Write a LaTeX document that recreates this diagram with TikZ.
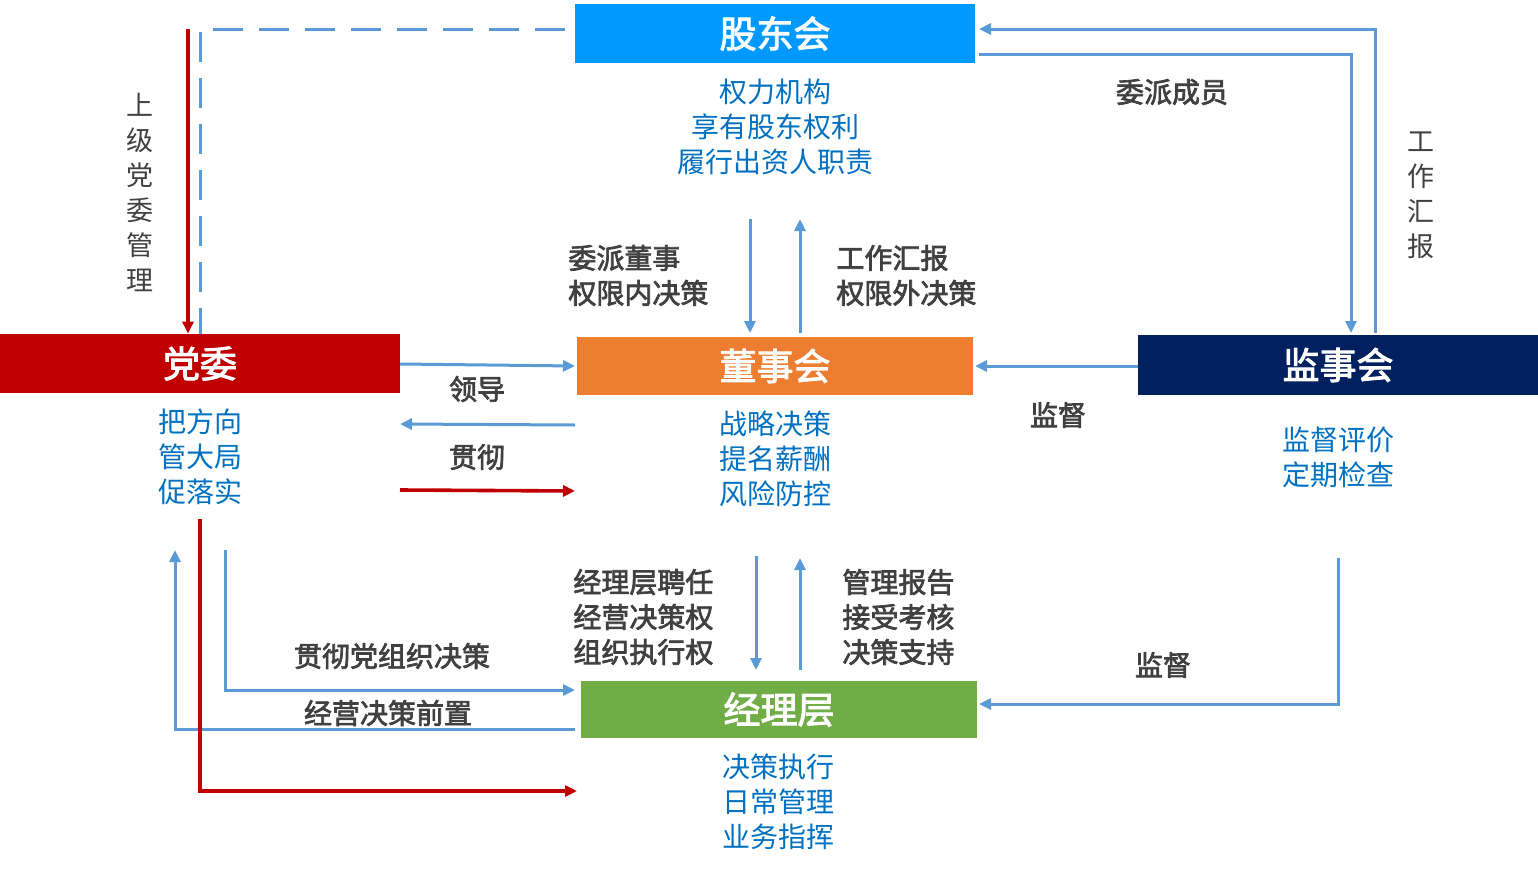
\documentclass[tikz,border=0pt]{standalone}
\usepackage{fontspec}
\setmainfont{Noto Sans CJK SC}
\newfontfamily\medfont[FakeBold=2.5]{Noto Sans CJK SC}
\usetikzlibrary{arrows.meta}
\definecolor{gdblue}{HTML}{0099FF}
\definecolor{dwred}{HTML}{C00000}
\definecolor{dshorange}{HTML}{ED7D31}
\definecolor{jshnavy}{HTML}{002060}
\definecolor{jlcgreen}{HTML}{70AD47}
\definecolor{lineblue}{HTML}{5B9BD5}
\definecolor{txtblue}{HTML}{0070C0}
\definecolor{txtgrey}{HTML}{404040}
\definecolor{linered}{HTML}{C00000}
\begin{document}
\begin{tikzpicture}[x=0.5pt,y=-0.5pt,
 box/.style={inner sep=0, minimum width=200pt, minimum height=29.5pt, text=white, font=\medfont\fontsize{18.5}{20}\selectfont},
 bluetxt/.style={text=txtblue, align=center, font=\fontsize{14}{17.5}\selectfont, inner sep=0},
 greytxt/.style={text=txtgrey, align=left, font=\medfont\fontsize{14}{17.5}\selectfont, inner sep=0},
 vtxt/.style={text=txtgrey, align=center, font=\fontsize{13.5}{17.5}\selectfont, inner sep=0},
 barrow/.style={draw=lineblue, line width=1.5pt, -{Triangle[length=6pt,width=5.5pt]}},
 rarrow/.style={draw=linered, line width=1.8pt, -{Triangle[length=6pt,width=5.5pt]}},
 bdash/.style={draw=lineblue, line width=1.5pt, dash pattern=on 15pt off 8pt},
]
\useasboundingbox (0,0) rectangle (1538,873);

% boxes
\node[box, fill=gdblue] (gd) at (775,33.5) {股东会};
\node[box, fill=dwred] (dw) at (200,363.5) {党委};
\node[box, fill=dshorange, minimum width=198pt, minimum height=29pt] (dsh) at (775,366) {董事会};
\node[box, fill=jshnavy, minimum height=30pt] (jsh) at (1338,365) {监事会};
\node[box, fill=jlcgreen, minimum width=198pt, minimum height=28.5pt] (jlc) at (779,709.5) {经理层};

% blue descriptions
\node[bluetxt] (gdd) at (775,127) {权力机构\\享有股东权利\\履行出资人职责};
\node[bluetxt] (dwd) at (200,457) {把方向\\管大局\\促落实};
\node[bluetxt] (dshd) at (775,459) {战略决策\\提名薪酬\\风险防控};
\node[bluetxt] (jshd) at (1338,457.5) {监督评价\\定期检查};
\node[bluetxt] (jlcd) at (778,802) {决策执行\\日常管理\\业务指挥};

% grey labels
\node[greytxt, anchor=west] (l1) at (568,275.5) {委派董事\\权限内决策};
\node[greytxt, anchor=west] (l2) at (836,275.5) {工作汇报\\权限外决策};
\node[greytxt] (l3) at (1172,92) {委派成员};
\node[vtxt] (l4) at (1421,195.5) {工\\作\\汇\\报};
\node[vtxt] (l5) at (140,192.5) {上\\级\\党\\委\\管\\理};
\node[greytxt] (l6) at (477,389) {领导};
\node[greytxt] (l7) at (477,457) {贯彻};
\node[greytxt] (l8) at (1058,415) {监督};
\node[greytxt, anchor=west] (l9) at (573,617) {经理层聘任\\经营决策权\\组织执行权};
\node[greytxt, anchor=west] (l10) at (842,617) {管理报告\\接受考核\\决策支持};
\node[greytxt] (l11) at (1163,665) {监督};
\node[greytxt] (l12) at (392,656) {贯彻党组织决策};
\node[greytxt] (l13) at (388,713) {经营决策前置};

% coordinates
\coordinate (dS) at (565,29);
\coordinate (rT) at (188,29);
\coordinate (a1) at (1375,333);
\coordinate (a1e) at (979,29);
\coordinate (a2) at (979,54);
\coordinate (a2e) at (1351,333);
\coordinate (v1s) at (750,219);
\coordinate (v1e) at (750,333);
\coordinate (v2s) at (800,333);
\coordinate (v2e) at (800,219);
\coordinate (h1s) at (400,364);
\coordinate (h1e) at (575,366);
\coordinate (h2s) at (575,425);
\coordinate (h2e) at (400,424);
\coordinate (h3s) at (400,490);
\coordinate (h3e) at (575,491);
\coordinate (h4s) at (1138,366);
\coordinate (h4e) at (975,366);
\coordinate (v3s) at (756,556);
\coordinate (v3e) at (756,670);
\coordinate (v4s) at (800,670);
\coordinate (v4e) at (800,558);
\coordinate (m1s) at (1338,558);
\coordinate (m1e) at (979,704);
\coordinate (p1s) at (225,550);
\coordinate (p1e) at (575,690);
\coordinate (p2s) at (575,729);
\coordinate (p2e) at (175,550);
\coordinate (r2s) at (200,519);
\coordinate (r2e) at (577,791);

% connectors
\draw[bdash] (dS) -| (dw.north);
\draw[rarrow] (rT) -- (rT |- dw.north);
\draw[barrow] (a1) |- (a1e);
\draw[barrow] (a2) -| (a2e);
\draw[barrow] (v1s) -- (v1e);
\draw[barrow] (v2s) -- (v2e);
\draw[barrow] (h1s) -- (h1e);
\draw[barrow] (h2s) -- (h2e);
\draw[rarrow] (h3s) -- (h3e);
\draw[barrow] (h4s) -- (h4e);
\draw[barrow] (v3s) -- (v3e);
\draw[barrow] (v4s) -- (v4e);
\draw[barrow] (m1s) |- (m1e);
\draw[barrow] (p1s) |- (p1e);
\draw[barrow] (p2s) -| (p2e);
\draw[rarrow] (r2s) |- (r2e);
\end{tikzpicture}
\end{document}
